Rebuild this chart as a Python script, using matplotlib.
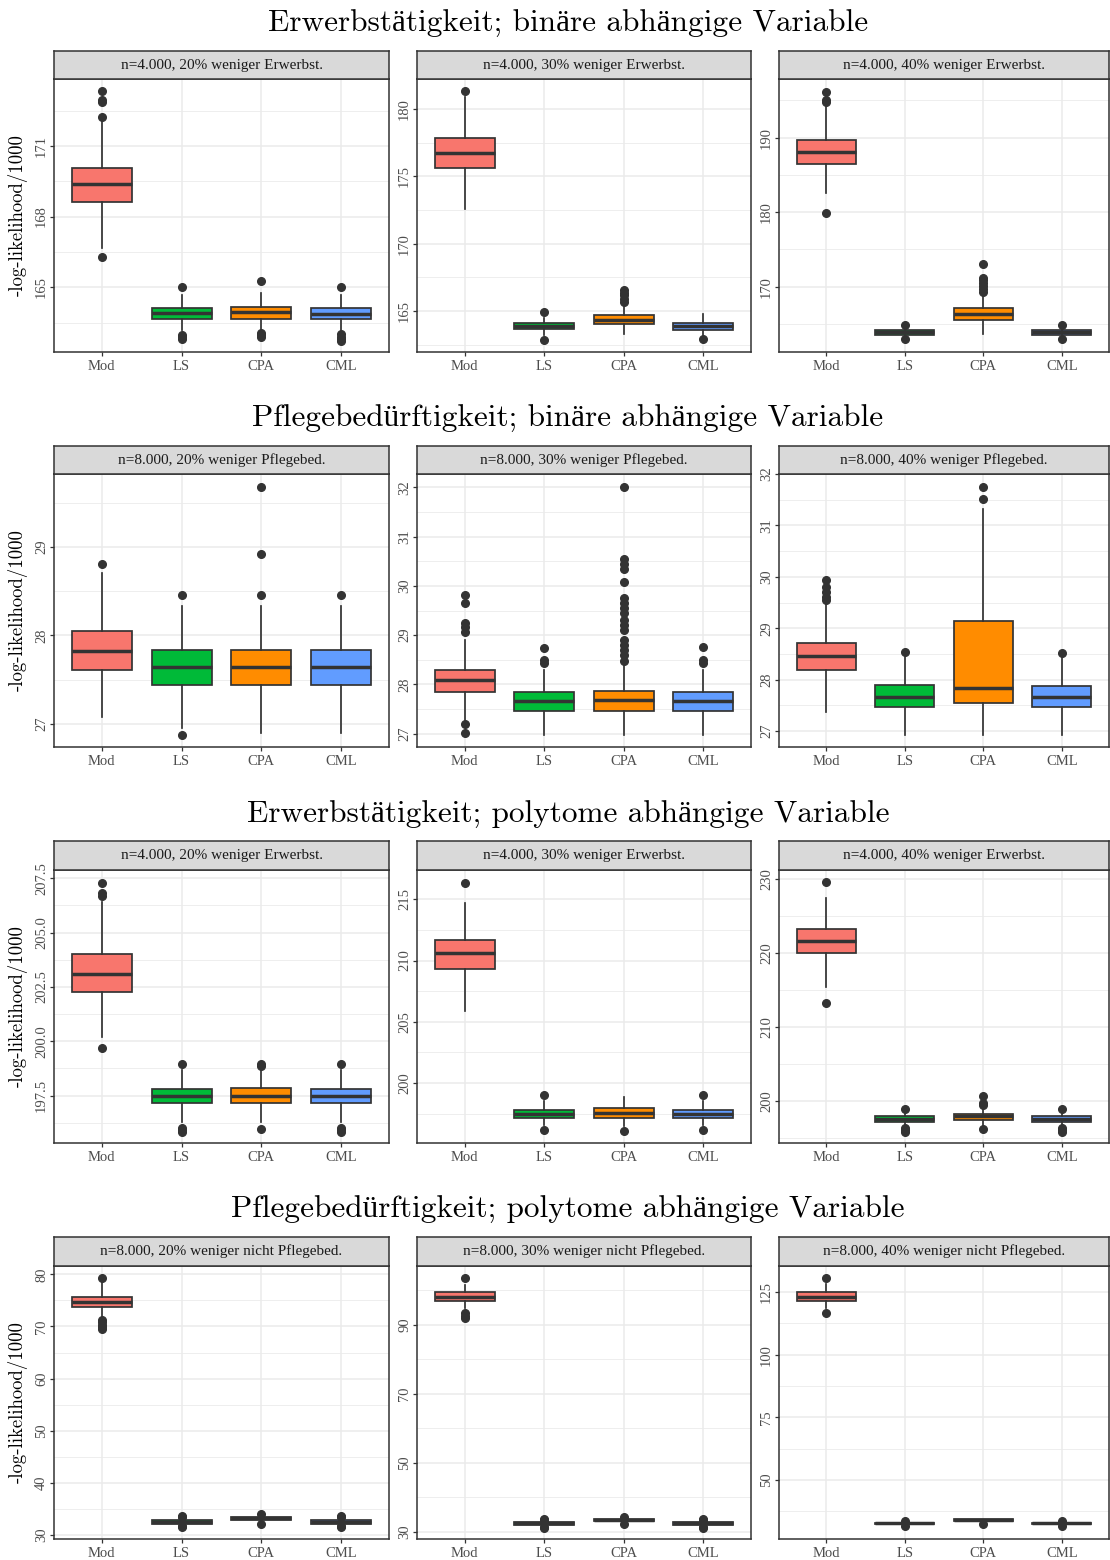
import matplotlib
matplotlib.use('Agg')
import matplotlib.pyplot as plt
from matplotlib.ticker import FixedLocator

plt.rcParams['font.family'] = ['Liberation Serif', 'DejaVu Serif']

methods = ['Mod', 'LS', 'CPA', 'CML']
fills = ['#F8766D', '#00BA38', '#FF8C00', '#619CFF']

row_titles = [
    'Erwerbstätigkeit; binäre abhängige Variable',
    'Pflegebedürftigkeit; binäre abhängige Variable',
    'Erwerbstätigkeit; polytome abhängige Variable',
    'Pflegebedürftigkeit; polytome abhängige Variable',
]
strip_labels = [
    ['n=4.000, 20% weniger Erwerbst.', 'n=4.000, 30% weniger Erwerbst.', 'n=4.000, 40% weniger Erwerbst.'],
    ['n=8.000, 20% weniger Pflegebed.', 'n=8.000, 30% weniger Pflegebed.', 'n=8.000, 40% weniger Pflegebed.'],
    ['n=4.000, 20% weniger Erwerbst.', 'n=4.000, 30% weniger Erwerbst.', 'n=4.000, 40% weniger Erwerbst.'],
    ['n=8.000, 20% weniger nicht Pflegebed.', 'n=8.000, 30% weniger nicht Pflegebed.',
     'n=8.000, 40% weniger nicht Pflegebed.'],
]

# box statistics per method (Mod, LS, CPA, CML): whisker ends, quartiles, median, outliers
erw_bin_20 = {
    'lo': [166.66, 163.19, 163.19, 163.19],
    'q1': [168.62, 163.64, 163.67, 163.64],
    'med': [169.38, 163.90, 163.94, 163.87],
    'q3': [170.06, 164.12, 164.18, 164.10],
    'hi': [172.10, 164.67, 164.77, 164.67],
    'out': [[173.32, 172.95, 172.86, 172.23, 166.29], [165.03, 162.96, 162.88, 162.79],
            [165.28, 163.05, 162.97, 162.90], [165.00, 163.02, 162.90, 162.80, 162.73]],
}
erw_bin_30 = {
    'lo': [172.55, 163.20, 163.27, 163.20],
    'q1': [175.59, 163.64, 164.01, 163.60],
    'med': [176.73, 163.89, 164.36, 163.89],
    'q3': [177.84, 164.13, 164.68, 164.13],
    'hi': [180.90, 164.50, 165.30, 164.78],
    'out': [[181.33], [164.95, 162.85], [166.56, 166.35, 166.19, 165.90, 165.70], [162.90]],
}
erw_bin_40 = {
    'lo': [182.54, 163.30, 163.60, 163.30],
    'q1': [186.47, 163.56, 165.53, 163.56],
    'med': [188.04, 163.92, 166.34, 163.88],
    'q3': [189.69, 164.23, 167.19, 164.20],
    'hi': [194.62, 164.60, 169.00, 164.60],
    'out': [[196.18, 195.06, 194.83, 179.85], [164.86, 162.94],
            [173.05, 171.20, 170.90, 170.50, 170.10, 169.70, 169.33], [164.80, 162.94]],
}
pfl_bin_20 = {
    'lo': [27.08, 26.96, 26.895, 26.895],
    'q1': [27.61, 27.444, 27.444, 27.444],
    'med': [27.825, 27.647, 27.647, 27.647],
    'q3': [28.054, 27.836, 27.836, 27.836],
    'hi': [28.71, 28.33, 28.33, 28.33],
    'out': [[28.81], [28.46, 26.87], [29.68, 28.917, 28.46], [28.46]],
}
pfl_bin_30 = {
    'lo': [27.28, 26.97, 26.97, 26.97],
    'q1': [27.84, 27.47, 27.47, 27.47],
    'med': [28.09, 27.67, 27.68, 27.66],
    'q3': [28.30, 27.85, 27.87, 27.85],
    'hi': [28.90, 28.29, 28.39, 28.29],
    'out': [[29.81, 29.65, 29.24, 29.17, 29.07, 27.19, 27.02], [28.74, 28.49, 28.43],
            [32.01, 30.55, 30.45, 30.35, 30.08, 29.75, 29.65, 29.55, 29.45, 29.30, 29.20,
             29.10, 28.90, 28.80, 28.70, 28.60, 28.48],
            [28.76, 28.50, 28.43]],
}
pfl_bin_40 = {
    'lo': [27.38, 26.92, 26.92, 26.92],
    'q1': [28.18, 27.47, 27.54, 27.47],
    'med': [28.46, 27.67, 27.83, 27.67],
    'q3': [28.72, 27.90, 29.15, 27.88],
    'hi': [29.48, 28.45, 31.32, 28.45],
    'out': [[29.93, 29.80, 29.70, 29.60, 29.55], [28.54], [31.74, 31.52], [28.51]],
}
erw_poly_20 = {
    'lo': [200.21, 196.30, 196.30, 196.30],
    'q1': [202.28, 197.15, 197.15, 197.15],
    'med': [203.10, 197.49, 197.50, 197.49],
    'q3': [204.03, 197.82, 197.85, 197.82],
    'hi': [206.42, 198.70, 198.70, 198.70],
    'out': [[207.27, 206.81, 206.70, 199.68], [198.94, 196.03, 195.92, 195.82],
            [198.94, 198.85, 195.95], [198.94, 196.03, 195.90, 195.82]],
}
erw_poly_30 = {
    'lo': [205.90, 196.60, 196.50, 196.60],
    'q1': [209.31, 197.12, 197.17, 197.12],
    'med': [210.61, 197.44, 197.57, 197.44],
    'q3': [211.70, 197.80, 197.98, 197.80],
    'hi': [214.67, 198.50, 198.88, 198.50],
    'out': [[216.33], [199.02, 196.14], [196.08], [199.00, 196.14]],
}
erw_poly_40 = {
    'lo': [215.45, 196.50, 196.60, 196.50],
    'q1': [219.97, 197.11, 197.34, 197.11],
    'med': [221.64, 197.55, 197.90, 197.55],
    'q3': [223.27, 197.97, 198.24, 197.97],
    'hi': [227.43, 198.50, 199.00, 198.50],
    'out': [[229.60, 213.20], [198.88, 196.26, 196.00, 195.80],
            [200.64, 199.65, 199.40, 196.17], [198.88, 196.26, 196.00, 195.80]],
}
pfl_poly_20 = {
    'lo': [71.9, 31.9, 32.5, 31.9],
    'q1': [73.74, 32.2, 32.9, 32.2],
    'med': [74.76, 32.55, 33.2, 32.55],
    'q3': [75.71, 32.9, 33.5, 32.9],
    'hi': [78.8, 33.3, 33.9, 33.3],
    'out': [[79.3, 71.2, 70.8, 70.3, 69.9, 69.5], [33.6, 33.4, 31.8, 31.6],
            [34.1, 32.1], [33.6, 33.4, 31.8, 31.6]],
}
pfl_poly_30 = {
    'lo': [95.0, 31.6, 32.4, 31.6],
    'q1': [97.05, 32.0, 33.0, 32.0],
    'med': [98.2, 32.44, 33.4, 32.44],
    'q3': [99.66, 32.8, 33.7, 32.8],
    'hi': [101.5, 33.2, 34.0, 33.2],
    'out': [[103.7, 93.4, 92.6, 91.95], [33.6, 33.3, 31.5, 31.2], [34.3, 32.1],
            [33.6, 33.3, 31.5, 31.2]],
}
pfl_poly_40 = {
    'lo': [118.5, 32.0, 33.0, 32.0],
    'q1': [121.52, 32.4, 33.6, 32.4],
    'med': [123.1, 32.7, 34.0, 32.7],
    'q3': [124.87, 33.0, 34.4, 33.0],
    'hi': [128.0, 33.4, 34.6, 33.4],
    'out': [[130.7, 116.5], [33.8, 31.8], [32.45], [33.8, 31.8]],
}

panels = [
    [erw_bin_20, erw_bin_30, erw_bin_40],
    [pfl_bin_20, pfl_bin_30, pfl_bin_40],
    [erw_poly_20, erw_poly_30, erw_poly_40],
    [pfl_poly_20, pfl_poly_30, pfl_poly_40],
]

# y ranges and breaks for each panel
y_limits = [
    [(162.25, 173.84), (161.96, 182.22), (161.23, 197.88)],
    [(26.74, 29.825), (26.73, 32.27), (26.69, 31.99)],
    [(195.32, 207.88), (195.10, 217.39), (194.27, 231.26)],
    [(29.23, 81.6), (27.88, 107.1), (26.47, 135.36)],
]
y_breaks = [
    [[165, 168, 171], [165, 170, 175, 180], [170, 180, 190]],
    [[27, 28, 29], [27, 28, 29, 30, 31, 32], [27, 28, 29, 30, 31, 32]],
    [[197.5, 200.0, 202.5, 205.0, 207.5], [200, 205, 210, 215], [200, 210, 220, 230]],
    [[30, 40, 50, 60, 70, 80], [30, 50, 70, 90], [50, 75, 100, 125]],
]

W, H = 1110, 1560
col_x = [(54, 389), (417, 751), (779, 1109)]
strip_top = [51, 446, 841, 1237]
strip_bot = [79, 474, 870, 1266]
panel_bot = [352, 747, 1143, 1539]
title_y = [24, 419, 815, 1210]
title_x = 568

DARK = '#333333'
GRID = '#EBEBEB'
CM = ['cmr10', 'Liberation Serif']


def rect(x0, y0, x1, y1):
    return [x0 / W, 1 - y1 / H, (x1 - x0) / W, (y1 - y0) / H]


fig = plt.figure(figsize=(W / 100, H / 100), dpi=100)

for r in range(4):
    fig.text(title_x / W, 1 - title_y[r] / H, row_titles[r], ha='center', va='center',
             fontsize=22.5, family=CM)
    for c in range(3):
        x0, x1 = col_x[c]
        d = panels[r][c]
        ax = fig.add_axes(rect(x0, strip_bot[r], x1, panel_bot[r]))
        stats = []
        for i in range(4):
            stats.append(dict(whislo=d['lo'][i], q1=d['q1'][i], med=d['med'][i],
                              q3=d['q3'][i], whishi=d['hi'][i], fliers=d['out'][i]))
        bp = ax.bxp(stats, positions=[1, 2, 3, 4], widths=0.75, patch_artist=True,
                    showcaps=False, zorder=3,
                    boxprops=dict(edgecolor=DARK, linewidth=1.25),
                    medianprops=dict(color=DARK, linewidth=2.5, solid_capstyle='butt'),
                    whiskerprops=dict(color=DARK, linewidth=1.25),
                    flierprops=dict(marker='o', markerfacecolor=DARK, markeredgecolor=DARK,
                                    markersize=5.5, linestyle='none'))
        for patch, col in zip(bp['boxes'], fills):
            patch.set_facecolor(col)

        lo, hi = y_limits[r][c]
        brk = y_breaks[r][c]
        step = brk[1] - brk[0]
        minors = [brk[0] - step / 2 + k * step for k in range(len(brk) + 1)]
        ax.set_xlim(0.4, 4.6)
        ax.set_ylim(lo, hi)
        ax.set_xticks([1, 2, 3, 4])
        ax.set_xticklabels(methods)
        ax.set_yticks(brk)
        if r == 2 and c == 0:
            ax.set_yticklabels(['{:.1f}'.format(b) for b in brk])
        else:
            ax.set_yticklabels(['{:g}'.format(b) for b in brk])
        ax.yaxis.set_minor_locator(FixedLocator(minors))
        ax.grid(True, which='major', color=GRID, linewidth=1.1, zorder=0)
        ax.grid(True, which='minor', axis='y', color=GRID, linewidth=0.6, zorder=0)
        ax.set_axisbelow(True)
        ax.tick_params(which='major', length=2.7, width=0.9, color=DARK,
                       labelsize=10.5, labelcolor='#4D4D4D', pad=1.5)
        ax.tick_params(axis='x', pad=3)
        ax.tick_params(which='minor', length=0)
        ax.tick_params(axis='y', labelrotation=90)
        for lab in ax.get_yticklabels():
            lab.set_va('center')
        for s in ax.spines.values():
            s.set_color(DARK)
            s.set_linewidth(1.1)
            s.set_zorder(5)

        # facet strip above the panel
        sax = fig.add_axes(rect(x0, strip_top[r], x1, strip_bot[r]))
        sax.set_facecolor('#D9D9D9')
        sax.set_xticks([])
        sax.set_yticks([])
        for s in sax.spines.values():
            s.set_color(DARK)
            s.set_linewidth(1.1)
        sax.text(0.5, 0.5, strip_labels[r][c], ha='center', va='center',
                 fontsize=11, color='#1A1A1A', transform=sax.transAxes)

    fig.text(18 / W, 1 - (strip_bot[r] + panel_bot[r]) / 2 / H, '-log-likelihood/1000',
             rotation=90, ha='center', va='center', fontsize=13.5, family=CM)

fig.savefig('out.png', dpi=100)
